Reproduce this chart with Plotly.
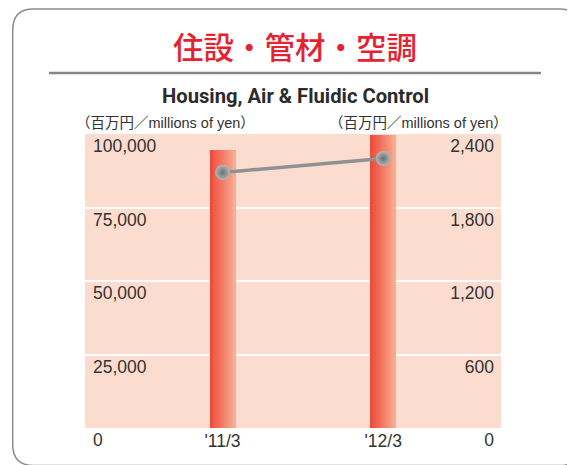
import plotly.graph_objects as go

# ---- data ----
categories = ["'11/3", "'12/3"]
net_sales = [94700, 99500]            # left axis, bars (millions of yen)
operating_income = [2086, 2200]       # right axis, line (millions of yen)
left_tick_vals = [0, 25000, 50000, 75000, 100000]
left_tick_text = ["0", "25,000", "50,000", "75,000", "100,000"]
right_tick_vals = [0, 600, 1200, 1800, 2400]
right_tick_text = ["0", "600", "1,200", "1,800", "2,400"]
title_jp = "住設・管材・空調"
title_en = "Housing, Air & Fluidic Control"
unit_label = "（百万円／millions of yen）"

# ---- geometry (pixels) ----
OFF = 8                      # default body margin of the html page
W_PX, H_PX = 575 - OFF, 465 - OFF
L, R, T, B = 77, 74, 126, 37
PW, PH = W_PX - L - R, H_PX - T - B


def px(x):
    """page x pixel -> paper"""
    return (x - OFF - L) / PW


def py(y):
    """page y pixel -> paper"""
    return (H_PX - B - (y - OFF)) / PH


FONT = "Liberation Sans, Arial, Helvetica, Noto Sans CJK JP, sans-serif"
TXT = "#333333"

fig = go.Figure()

# gradient bars built from strips
N = 14
BW = 0.159
c0 = (238, 76, 58)
c1 = (249, 172, 148)
for i in range(N):
    t = i / (N - 1)
    col = "rgb(%d,%d,%d)" % tuple(round(a + (b - a) * t) for a, b in zip(c0, c1))
    fig.add_trace(go.Bar(
        x=categories, y=net_sales,
        width=BW / N * 1.1, offset=-BW / 2 + i * BW / N,
        marker=dict(color=col, line=dict(width=0)),
        showlegend=False, hoverinfo="skip",
    ))

fig.add_trace(go.Scatter(
    x=categories, y=operating_income, yaxis="y2",
    mode="lines+markers",
    line=dict(color="#8f9295", width=3.5),
    marker=dict(size=15, color="#b4b7ba",
                gradient=dict(type="radial", color="#6a6e72"),
                line=dict(width=0)),
    showlegend=False,
))

shapes = []
# rounded outer frame
x0, y0, x1, y1, r = 12.7, 9, 583, 465.5, 24
path = (f"M {px(x0 + 21)} {py(y0)} L {px(x1 - r)} {py(y0)} "
        f"Q {px(x1)} {py(y0)} {px(x1)} {py(y0 + r)} "
        f"L {px(x1)} {py(y1 - r)} Q {px(x1)} {py(y1)} {px(x1 - r)} {py(y1)} "
        f"L {px(x0 + 21)} {py(y1)} Q {px(x0)} {py(y1)} {px(x0)} {py(y1 - 21)} "
        f"L {px(x0)} {py(y0 + 21)} Q {px(x0)} {py(y0)} {px(x0 + 21)} {py(y0)} Z")
shapes.append(dict(type="path", path=path, xref="paper", yref="paper",
                   line=dict(color="#8c8c8c", width=1.5), layer="above"))
# rule under the title
shapes.append(dict(type="line", xref="paper", yref="paper",
                   x0=px(49), x1=px(541), y0=py(73), y1=py(73),
                   line=dict(color="#858585", width=2.5)))

annotations = [
    dict(text=title_jp, x=px(295), y=py(46), xref="paper", yref="paper",
         showarrow=False, xanchor="center", yanchor="middle",
         font=dict(family="Noto Sans CJK JP", size=30.5, color="#e52330", weight=500)),
    dict(text=title_en, x=px(295.5), y=py(96), xref="paper", yref="paper",
         showarrow=False, xanchor="center", yanchor="middle",
         font=dict(family="Roboto, sans-serif",
                   size=20.2, color="#2b2b2b", weight="bold")),
    dict(text=unit_label, x=px(74), y=py(123), xref="paper", yref="paper",
         showarrow=False, xanchor="left", yanchor="middle",
         font=dict(family=FONT, size=14.5, color=TXT)),
    dict(text=unit_label, x=px(510), y=py(123), xref="paper", yref="paper",
         showarrow=False, xanchor="right", yanchor="middle",
         font=dict(family=FONT, size=14.5, color=TXT)),
]

fig.update_layout(
    width=W_PX, height=H_PX,
    margin=dict(l=L, r=R, t=T, b=B, pad=0),
    paper_bgcolor="white", plot_bgcolor="#fcdccf",
    barmode="overlay", bargap=0,
    font=dict(family=FONT, size=17.5, color=TXT),
    shapes=shapes, annotations=annotations,
    xaxis=dict(type="category", range=[-0.856, 1.733], showgrid=False,
               zeroline=False, showline=False, ticks="",
               tickfont=dict(size=17.5, color=TXT)),
    yaxis=dict(range=[0, 100000], tickvals=left_tick_vals, ticktext=left_tick_text,
               ticklabelposition="inside", ticklabelshift=12, ticks="",
               ticklabelstandoff=5, ticklabeloverflow="allow",
               showgrid=True, gridcolor="white", gridwidth=2,
               zeroline=False, showline=False,
               tickfont=dict(size=17.5, color=TXT)),
    yaxis2=dict(range=[0, 2400], tickvals=right_tick_vals, ticktext=right_tick_text,
                overlaying="y", side="right",
                ticklabelposition="inside", ticklabelshift=12, ticks="",
                ticklabelstandoff=4, ticklabeloverflow="allow",
                showgrid=False, zeroline=False, showline=False,
                tickfont=dict(size=17.5, color=TXT)),
    showlegend=False,
)

fig.write_html("out.html")
